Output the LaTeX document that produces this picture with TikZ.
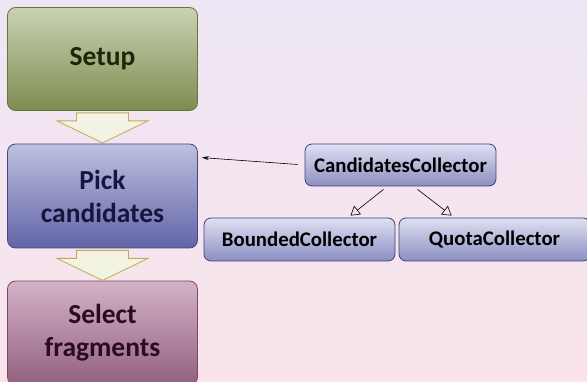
\documentclass[tikz,border=0pt]{standalone}
\usepackage{fontspec}
\setmainfont{Carlito}
\usetikzlibrary{arrows.meta,calc}

\definecolor{bgtop}{RGB}{238,230,245}
\definecolor{bgbot}{RGB}{250,228,234}
\definecolor{setuptop}{RGB}{202,210,178}
\definecolor{setupbot}{RGB}{124,140,80}
\definecolor{setupline}{RGB}{104,116,58}
\definecolor{setuptext}{RGB}{28,38,10}
\definecolor{picktop}{RGB}{190,192,222}
\definecolor{pickbot}{RGB}{98,100,168}
\definecolor{pickline}{RGB}{70,72,134}
\definecolor{picktext}{RGB}{22,22,62}
\definecolor{selecttop}{RGB}{212,178,198}
\definecolor{selectbot}{RGB}{146,96,128}
\definecolor{selectline}{RGB}{128,70,110}
\definecolor{selecttext}{RGB}{42,12,32}
\definecolor{colltop}{RGB}{222,224,242}
\definecolor{collbot}{RGB}{140,142,194}
\definecolor{collline}{RGB}{62,64,116}
\definecolor{arrowfill}{RGB}{243,243,227}
\definecolor{arrowline}{RGB}{190,170,88}

\begin{document}
\begin{tikzpicture}[x=1pt,y=-1pt,
	stage/.style={draw, rounded corners=8pt, line width=0.8pt, minimum width=190pt,
		minimum height=104pt, align=center, font=\fontsize{27.5}{33}\selectfont\bfseries},
	collector/.style={draw=collline, rounded corners=7pt, line width=0.8pt, minimum width=191pt,
		minimum height=42pt, top color=colltop, bottom color=collbot,
		font=\fontsize{20.8}{24}\selectfont\bfseries},
	flowarrow/.style={draw=arrowline, fill=arrowfill, line width=0.8pt, line join=miter}]
	\useasboundingbox (0,0) rectangle (587,382);
	\fill[top color=bgtop, bottom color=bgbot] (0,0) rectangle (587,382);

	\node[stage, draw=setupline, top color=setuptop, bottom color=setupbot, text=setuptext,
		minimum height=103pt] (setup) at (102.5,59) {Setup};
	\node[stage, draw=pickline, top color=picktop, bottom color=pickbot, text=picktext]
		(pick) at (102.5,196) {Pick\\candidates};
	\node[stage, draw=selectline, top color=selecttop, bottom color=selectbot, text=selecttext]
		(select) at (102.5,333) {Select\\fragments};

	\foreach \a in {setup,pick}
		\draw[flowarrow] ($(\a.south)+(-26,2)$) -- ++(52,0) -- ++(0,8) -- ++(19.5,0)
			-- ++(-45.5,22) -- ++(-45.5,-22) -- ++(19.5,0) -- cycle;

	\node[collector] (cand) at (400.5,165) {CandidatesCollector};
	\node[collector, minimum height=43pt] (bounded) at (299.5,239.5) {BoundedCollector};
	\node[collector, minimum height=43pt] (quota) at (494.5,239.5) {QuotaCollector};

	\draw[-{Stealth[length=7pt,width=4pt]}, line width=0.6pt, shorten <=7pt]
		(cand.west) -- ($(pick.north east)+(4,14)$);
	\draw[-{Triangle[open,length=9pt,width=11pt]}, line width=0.6pt]
		($(cand.south)+(-17,3)$) -- ($(bounded.north)+(51,-2)$);
	\draw[-{Triangle[open,length=9pt,width=11pt]}, line width=0.6pt]
		($(cand.south)+(17,3)$) -- ($(quota.north west)+(53,-2)$);
\end{tikzpicture}
\end{document}
